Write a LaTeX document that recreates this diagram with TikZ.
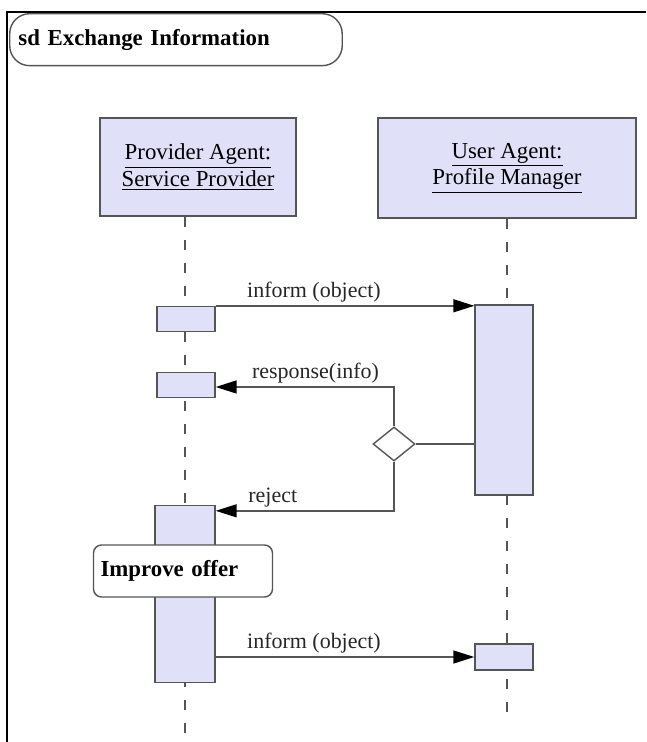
\documentclass[tikz,border=0pt]{standalone}
\usepackage{fontspec}
\setmainfont{Liberation Serif}
\usepackage[HTML]{xcolor}
\usepackage{tikz}
\usetikzlibrary{positioning, arrows, arrows.meta, shapes.geometric, backgrounds}

\definecolor{actfill}{HTML}{E0E0F8}
\definecolor{edge}{HTML}{555555}

\begin{document}
\begin{tikzpicture}[x=0.02cm, y=-0.02cm,
  lifebox/.style={draw=edge, line width=0.8pt, fill=actfill, align=center,
    font=\fontsize{13}{15}\selectfont, inner sep=0pt},
  actbox/.style={draw=edge, line width=0.8pt, fill=actfill, inner sep=0pt},
  lifeline/.style={edge, line width=0.8pt, dash pattern=on 5.7pt off 7.4pt},
  msg/.style={edge, line width=0.8pt, -{Triangle[length=4.2mm,width=2.6mm,color=black]}},
  conn/.style={edge, line width=0.8pt},
  lbl/.style={text=black!85, font=\fontsize{12.5}{15}\selectfont, inner sep=1.5pt}]
\useasboundingbox (0,0) rectangle (646,742);
% frame
\draw[line width=1.2pt] (646,12) -- (7,12) -- (7,742);
\node[draw=edge, line width=0.8pt, rounded corners=0.4cm, anchor=north west,
  minimum width=6.6cm, minimum height=1.04cm, text width=6.3cm,
  font=\bfseries\fontsize{13}{15}\selectfont, inner xsep=5pt] (frametitle) at (9,13)
  {sd Exchange Information};
% lifeline heads
\node[lifebox, minimum width=3.92cm, minimum height=1.96cm] (provider) at (198,167)
  {\underline{Provider Agent:}\\ \underline{Service Provider}};
\node[lifebox, minimum width=5.16cm, minimum height=2.0cm] (user) at (507,168)
  {\underline{User Agent:}\\ \underline{Profile Manager}};
% activations
\node[actbox, minimum width=1.16cm, minimum height=0.5cm] (act1) at (186,319) {};
\node[actbox, minimum width=1.16cm, minimum height=0.5cm] (act2) at (186,385) {};
\node[actbox, minimum width=1.2cm, minimum height=3.54cm] (act3) at (185,594) {};
\node[actbox, minimum width=1.16cm, minimum height=3.8cm] (uact1) at (504,400) {};
\node[actbox, minimum width=1.16cm, minimum height=0.52cm] (uact2) at (504,657) {};
\node[draw=edge, line width=0.8pt, fill=white, diamond, inner sep=0pt,
  minimum width=0.84cm, minimum height=0.68cm] (choice) at (394,444) {};
\node[draw=edge, line width=0.8pt, fill=white, rounded corners=0.16cm,
  minimum width=3.58cm, minimum height=1.04cm, text width=3.3cm,
  font=\bfseries\fontsize{13}{16}\selectfont] (improve) at (183,571) {Improve offer};
% lifelines
\coordinate (pend) at (185,742);
\coordinate (uend) at (507,722);
\begin{scope}[on background layer]
\draw[lifeline] (pend |- provider.south) -- (pend);
\draw[lifeline] (uend |- user.south) -- (uend);
\end{scope}
% messages
\draw[msg] (act1.north east) -- (act1.north east -| uact1.west)
  node[lbl, above, pos=0.38] {inform (object)};
\draw[msg] (choice.north) |- ([yshift=-0.04cm]act2.east)
  node[lbl, above, pos=0.72] {response(info)};
\draw[conn] (choice.east) -- (choice.east -| uact1.west);
\draw[msg] (choice.south) |- ([yshift=-0.12cm]act3.north east)
  node[lbl, above, pos=0.84] {reject};
\draw[msg] (uact2.west -| act3.east) -- (uact2.west)
  node[lbl, above, pos=0.38] {inform (object)};
\end{tikzpicture}
\end{document}
